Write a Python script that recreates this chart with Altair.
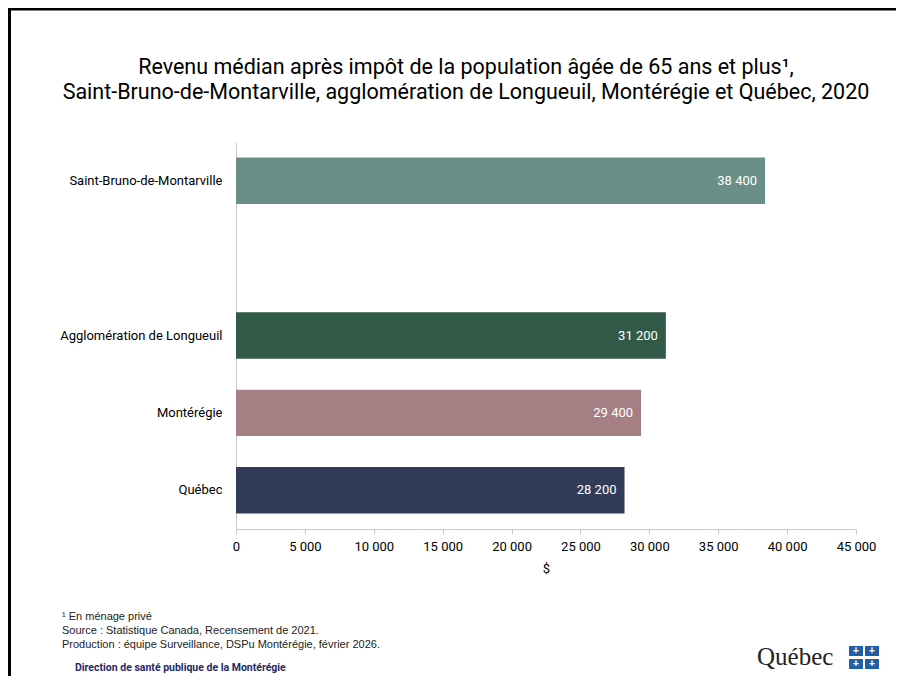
import altair as alt
import pandas as pd

categories = ["Saint-Bruno-de-Montarville", "Agglomération de Longueuil", "Montérégie", "Québec"]
values = [38400, 31200, 29400, 28200]
colors = ["#6a8f88", "#325a48", "#a67f84", "#323b58"]
y_domain = ["Saint-Bruno-de-Montarville", " ", "Agglomération de Longueuil", "Montérégie", "Québec"]
x_ticks = [0, 5000, 10000, 15000, 20000, 25000, 30000, 35000, 40000, 45000]

title_lines = [
    "Revenu médian après impôt de la population âgée de 65 ans et plus¹,",
    "Saint-Bruno-de-Montarville, agglomération de Longueuil, Montérégie et Québec, 2020",
]
notes = [
    "¹ En ménage privé",
    "Source : Statistique Canada, Recensement de 2021.",
    "Production : équipe Surveillance, DSPu Montérégie, février 2026.",
]
org = "Direction de santé publique de la Montérégie"

df = pd.DataFrame({
    "cat": categories,
    "val": values,
    "label": [f"{v:,}".replace(",", " ") for v in values],
})

FONT = "Roboto"

x_enc = alt.X("val:Q", scale=alt.Scale(domain=[0, 45000], nice=False),
              axis=alt.Axis(values=x_ticks, grid=False, domainColor="#c8c8c8",
                            tickColor="#c8c8c8", tickSize=5, labelFontSize=13,
                            labelFont=FONT, labelColor="#000000", labelPadding=6,
                            labelFlush=False, labelOverlap=False,
                            labelExpr="replace(format(datum.value, ','), ',', ' ')",
                            title="$", titleFont=FONT, titleFontSize=13,
                            titleFontWeight="normal", titleColor="#000000", titlePadding=9))
y_enc = alt.Y("cat:N", scale=alt.Scale(domain=y_domain, paddingInner=0.4, paddingOuter=0.2),
              axis=alt.Axis(title=None, ticks=False, domainColor="#c8c8c8",
                            labelFontSize=13, labelFont=FONT, labelColor="#000000",
                            labelPadding=14, labelLimit=300))

bars = alt.Chart(df).mark_bar().encode(
    x=x_enc, y=y_enc,
    color=alt.Color("cat:N", scale=alt.Scale(domain=categories, range=colors), legend=None),
)
labels = alt.Chart(df).mark_text(align="right", dx=-8, color="white", fontSize=13, font=FONT).encode(
    x="val:Q", y=alt.Y("cat:N", scale=alt.Scale(domain=y_domain)), text="label:N"
)

one = alt.Data(values=[{}])

def txt(t, x, y, **kw):
    return alt.Chart(one).mark_text(**kw).encode(x=alt.value(x), y=alt.value(y), text=alt.value(t))

deco = [
    txt(title_lines[0], 230, -74, align="center", baseline="middle", fontSize=21.5, font=FONT, color="#000000"),
    txt(title_lines[1], 230, -49, align="center", baseline="middle", fontSize=21.5, font=FONT, color="#000000"),
    txt(notes[0], -174, 475, align="left", baseline="middle", fontSize=11, font="Liberation Sans", color="#222222"),
    txt(notes[1], -174, 489, align="left", baseline="middle", fontSize=11, font="Liberation Sans", color="#222222"),
    txt(notes[2], -174, 503, align="left", baseline="middle", fontSize=11, font="Liberation Sans", color="#222222"),
    txt(org, -161, 526, align="left", baseline="middle", fontSize=10.5, font=FONT, fontWeight="bold", color="#1f2a66"),
    txt("Québec", 521, 515, align="left", baseline="middle", fontSize=25, font="Liberation Serif", color="#222222"),
]
for (cx, cy) in [(620, 509), (636, 509), (620, 522), (636, 522)]:
    deco.append(alt.Chart(one).mark_rect(color="#1f5fa8").encode(
        x=alt.value(cx - 7), x2=alt.value(cx + 7), y=alt.value(cy - 5), y2=alt.value(cy + 5)))
    deco.append(txt("+", cx, cy, align="center", baseline="middle", fontSize=10, font="Liberation Sans",
                    color="white", fontWeight="bold"))

frame = [
    alt.Chart(one).mark_rule(color="#000000", strokeWidth=3).encode(
        x=alt.value(-228), x2=alt.value(660), y=alt.value(-133)),
    alt.Chart(one).mark_rule(color="#000000", strokeWidth=3).encode(
        x=alt.value(-226.5), y=alt.value(-134), y2=alt.value(534)),
]

chart = alt.layer(bars, labels, *deco, *frame).properties(
    width=620, height=387,
    autosize=alt.AutoSizeParams(type="none"),
    padding={"left": 228, "top": 134, "right": 40, "bottom": 147},
).configure(background="white").configure_view(stroke=None)

chart.save("out.html", embed_options={"renderer": "svg", "actions": False})
